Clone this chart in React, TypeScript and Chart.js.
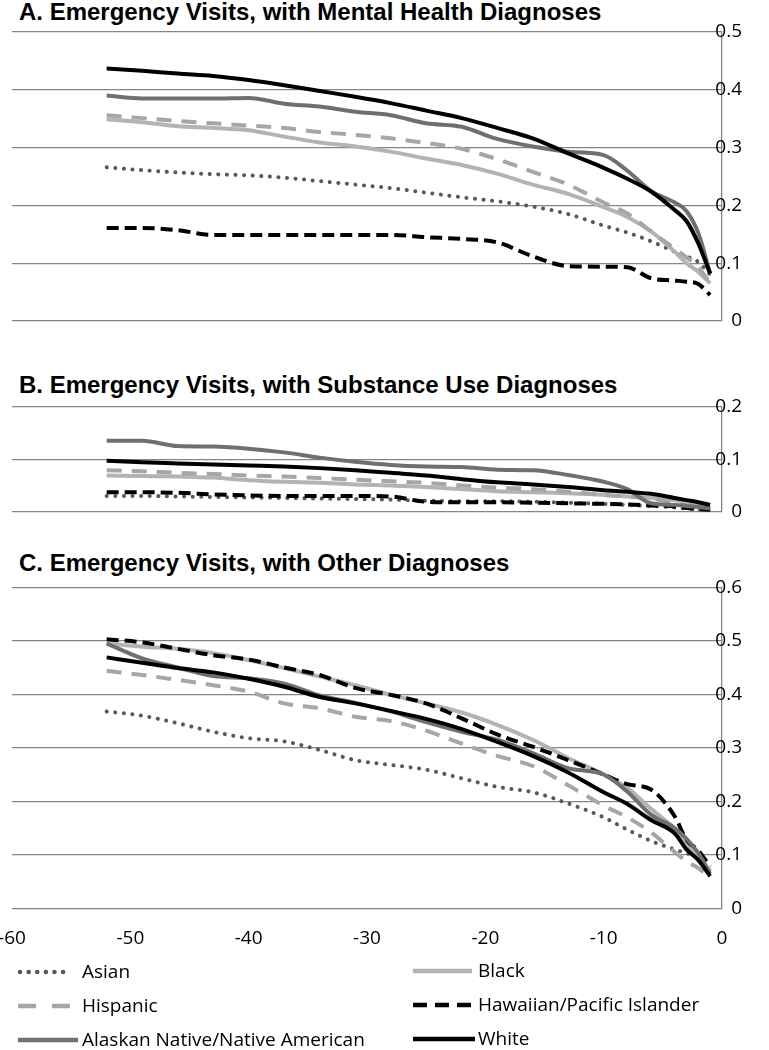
import React, { useEffect, useRef } from 'react';
import { Chart, registerables } from 'chart.js';

Chart.register(...registerables);

// ---------- DATA ----------
const weeks = [-52, -49, -46, -43, -40, -37, -34, -31, -28, -25, -22, -19, -16, -13, -10, -8, -6, -4, -3, -2, -1];
const xTickValues = [-60, -50, -40, -30, -20, -10, 0];

const seriesNames = ['Asian', 'Black', 'Hispanic', 'Hawaiian/Pacific Islander', 'Alaskan Native/Native American', 'White'];

// Panel A: Mental health diagnoses
const asianA = [0.266, 0.261, 0.257, 0.254, 0.252, 0.248, 0.242, 0.236, 0.230, 0.222, 0.214, 0.207, 0.198, 0.185, 0.165, 0.153, 0.138, 0.120, 0.112, 0.102, 0.080];
const blackA = [0.349, 0.344, 0.337, 0.334, 0.330, 0.319, 0.309, 0.302, 0.293, 0.281, 0.270, 0.255, 0.236, 0.220, 0.197, 0.180, 0.155, 0.120, 0.100, 0.085, 0.065];
const hispanicA = [0.356, 0.351, 0.346, 0.342, 0.338, 0.334, 0.327, 0.322, 0.316, 0.308, 0.298, 0.280, 0.258, 0.236, 0.205, 0.186, 0.155, 0.125, 0.110, 0.093, 0.065];
const hawaiianA = [0.161, 0.161, 0.157, 0.149, 0.149, 0.149, 0.149, 0.149, 0.149, 0.145, 0.142, 0.136, 0.112, 0.095, 0.094, 0.093, 0.074, 0.070, 0.068, 0.064, 0.045];
const alaskanA = [0.390, 0.385, 0.385, 0.385, 0.386, 0.376, 0.371, 0.362, 0.356, 0.342, 0.336, 0.315, 0.302, 0.293, 0.287, 0.260, 0.225, 0.205, 0.190, 0.152, 0.082];
const whiteA = [0.437, 0.433, 0.428, 0.424, 0.417, 0.408, 0.398, 0.388, 0.377, 0.364, 0.351, 0.334, 0.316, 0.290, 0.265, 0.246, 0.224, 0.192, 0.173, 0.134, 0.082];

// Panel B: Substance use diagnoses
const asianB = [0.030, 0.030, 0.029, 0.028, 0.027, 0.026, 0.025, 0.024, 0.023, 0.021, 0.020, 0.020, 0.019, 0.017, 0.015, 0.013, 0.011, 0.008, 0.006, 0.004, 0.002];
const blackB = [0.069, 0.068, 0.067, 0.065, 0.060, 0.057, 0.055, 0.052, 0.050, 0.047, 0.043, 0.039, 0.037, 0.035, 0.032, 0.029, 0.026, 0.022, 0.018, 0.012, 0.006];
const hispanicB = [0.079, 0.077, 0.074, 0.072, 0.069, 0.067, 0.064, 0.061, 0.058, 0.055, 0.050, 0.046, 0.043, 0.038, 0.032, 0.029, 0.025, 0.016, 0.011, 0.007, 0.003];
const hawaiianB = [0.037, 0.037, 0.036, 0.033, 0.031, 0.030, 0.030, 0.030, 0.029, 0.019, 0.018, 0.018, 0.017, 0.016, 0.015, 0.014, 0.012, 0.010, 0.007, 0.005, 0.003];
const alaskanB = [0.135, 0.135, 0.125, 0.124, 0.120, 0.113, 0.103, 0.095, 0.089, 0.086, 0.085, 0.080, 0.079, 0.070, 0.057, 0.043, 0.016, 0.013, 0.011, 0.009, 0.006];
const whiteB = [0.097, 0.094, 0.092, 0.090, 0.088, 0.086, 0.083, 0.079, 0.074, 0.069, 0.062, 0.056, 0.052, 0.047, 0.041, 0.038, 0.034, 0.026, 0.022, 0.018, 0.013];

// Panel C: Other diagnoses
const asianC = [0.368, 0.360, 0.346, 0.330, 0.318, 0.312, 0.296, 0.277, 0.268, 0.259, 0.243, 0.227, 0.217, 0.196, 0.170, 0.147, 0.126, 0.110, 0.103, 0.096, 0.088];
const blackC = [0.495, 0.489, 0.485, 0.477, 0.464, 0.449, 0.433, 0.417, 0.399, 0.383, 0.366, 0.343, 0.315, 0.281, 0.250, 0.225, 0.186, 0.148, 0.120, 0.092, 0.070];
const hispanicC = [0.444, 0.436, 0.427, 0.417, 0.405, 0.383, 0.374, 0.358, 0.350, 0.332, 0.308, 0.285, 0.266, 0.230, 0.192, 0.170, 0.142, 0.105, 0.088, 0.075, 0.056];
const hawaiianC = [0.503, 0.497, 0.485, 0.473, 0.465, 0.450, 0.436, 0.412, 0.399, 0.383, 0.355, 0.325, 0.302, 0.277, 0.250, 0.232, 0.222, 0.172, 0.128, 0.108, 0.078];
const alaskanC = [0.495, 0.467, 0.450, 0.434, 0.430, 0.420, 0.398, 0.384, 0.368, 0.348, 0.330, 0.315, 0.290, 0.262, 0.250, 0.218, 0.175, 0.150, 0.130, 0.103, 0.065];
const whiteC = [0.469, 0.459, 0.449, 0.441, 0.429, 0.414, 0.395, 0.383, 0.369, 0.354, 0.335, 0.311, 0.285, 0.254, 0.217, 0.195, 0.165, 0.140, 0.110, 0.090, 0.060];

const titleA = 'A. Emergency Visits, with Mental Health Diagnoses';
const titleB = 'B. Emergency Visits, with Substance Use Diagnoses';
const titleC = 'C. Emergency Visits, with Other Diagnoses';

// ---------- STYLES ----------
type Style = { color: string; dash: number[]; legendDash: string; cap: CanvasLineCap; width: number; order: number };
const styles: Style[] = [
  { color: '#595959', dash: [0.1, 8.5], legendDash: '0.1 8.5', cap: 'round', width: 4, order: 6 },
  { color: '#b3b3b3', dash: [], legendDash: '', cap: 'butt', width: 4, order: 5 },
  { color: '#a6a6a6', dash: [15, 10], legendDash: '18 16', cap: 'butt', width: 4, order: 4 },
  { color: '#000000', dash: [12, 6], legendDash: '14 8', cap: 'butt', width: 4, order: 3 },
  { color: '#6f6f6f', dash: [], legendDash: '', cap: 'butt', width: 4, order: 2 },
  { color: '#000000', dash: [], legendDash: '', cap: 'butt', width: 4, order: 1 },
];

const FONT = "'Open Sans', 'Noto Sans', sans-serif";
const TITLE_FONT = "'Liberation Sans', Arial, sans-serif";
const GRID = '#858585';

type PanelProps = {
  top: number;
  height: number;
  padding: { top: number; bottom: number; left: number; right: number };
  max: number;
  series: number[][];
  showX: boolean;
};

function Panel({ top, height, padding, max, series, showX }: PanelProps) {
  const ref = useRef<HTMLCanvasElement | null>(null);
  useEffect(() => {
    if (!ref.current) return;
    const datasets = series.map((vals, i) => ({
      label: seriesNames[i],
      data: weeks.map((w, j) => ({ x: w, y: vals[j] })),
      borderColor: styles[i].color,
      backgroundColor: styles[i].color,
      borderWidth: styles[i].width,
      borderDash: styles[i].dash,
      borderCapStyle: styles[i].cap,
      borderJoinStyle: 'round' as CanvasLineJoin,
      pointRadius: 0,
      fill: false,
      order: styles[i].order,
      cubicInterpolationMode: 'monotone' as const,
    }));
    const chart = new Chart(ref.current, {
      type: 'line',
      data: { datasets },
      options: {
        animation: false,
        responsive: false,
        devicePixelRatio: 1,
        layout: { padding },
        plugins: { legend: { display: false }, tooltip: { enabled: false }, title: { display: false } },
        scales: {
          x: {
            type: 'linear',
            min: -60,
            max: 0,
            display: showX,
            grid: { display: false },
            border: { display: false },
            afterBuildTicks: (s: any) => {
              s.ticks = xTickValues.map((v) => ({ value: v }));
            },
            ticks: {
              padding: 11,
              color: '#000',
              font: { family: FONT, size: 19 },
              maxRotation: 0,
              autoSkip: false,
            },
            afterFit: (s: any) => {
              s.paddingLeft = 0;
              s.paddingRight = 0;
              if (s.options.display) s.height = 40;
            },
          },
          y: {
            position: 'right',
            min: 0,
            max,
            ticks: {
              stepSize: 0.1,
              mirror: true,
              padding: 20,
              color: '#000',
              font: { family: FONT, size: 19 },
              callback: (v: any) => String(Math.round(Number(v) * 10) / 10),
            },
            grid: { color: GRID, lineWidth: 1.3, drawTicks: false },
            border: { display: true, color: GRID, width: 1.3 },
            afterFit: (s: any) => {
              s.paddingTop = 0;
              s.paddingBottom = 0;
            },
          },
        },
      } as any,
    });
    return () => chart.destroy();
  }, []);
  return (
    <canvas
      ref={ref}
      width={769}
      height={height}
      style={{ position: 'absolute', left: 0, top, width: 769, height, display: 'block' }}
    />
  );
}

function Title({ text, top }: { text: string; top: number }) {
  return (
    <div
      style={{
        position: 'absolute',
        left: 19,
        top,
        fontFamily: TITLE_FONT,
        fontWeight: 'bold',
        fontSize: 24,
        lineHeight: '24px',
        color: '#000',
        whiteSpace: 'nowrap',
      }}
    >
      {text}
    </div>
  );
}

function LegendItem({ idx, x, sampleW, textX, cy }: { idx: number; x: number; sampleW: number; textX: number; cy: number }) {
  const st = styles[idx];
  return (
    <>
      <svg
        width={sampleW + 4}
        height={10}
        style={{ position: 'absolute', left: x - 2, top: cy - 5, overflow: 'visible' }}
      >
        <line
          x1={2}
          y1={5}
          x2={sampleW + 2}
          y2={5}
          stroke={st.color}
          strokeWidth={4.5}
          strokeDasharray={st.legendDash || undefined}
          strokeLinecap={st.cap}
        />
      </svg>
      <div
        style={{
          position: 'absolute',
          left: textX,
          top: cy - 13,
          fontFamily: FONT,
          fontSize: 19,
          lineHeight: '24px',
          color: '#000',
          whiteSpace: 'nowrap',
        }}
      >
        {seriesNames[idx]}
      </div>
    </>
  );
}

export default function App() {
  return (
    <div style={{ position: 'absolute', left: 0, top: 0, width: 769, height: 1050, background: '#fff', overflow: 'hidden' }}>
      <Title text={titleA} top={0} />
      <Panel
        top={0}
        height={335}
        padding={{ top: 32, bottom: 14, left: 12, right: 7 }}
        max={0.5}
        series={[asianA, blackA, hispanicA, hawaiianA, alaskanA, whiteA]}
        showX={false}
      />
      <Title text={titleB} top={373} />
      <Panel
        top={390}
        height={135}
        padding={{ top: 16.7, bottom: 13.3, left: 12, right: 7 }}
        max={0.2}
        series={[asianB, blackB, hispanicB, hawaiianB, alaskanB, whiteB]}
        showX={false}
      />
      <Title text={titleC} top={551} />
      <Panel
        top={570}
        height={390}
        padding={{ top: 17.3, bottom: 11.7, left: 12, right: 7 }}
        max={0.6}
        series={[asianC, blackC, hispanicC, hawaiianC, alaskanC, whiteC]}
        showX={true}
      />
      <LegendItem idx={0} x={20} sampleW={50} textX={82} cy={972} />
      <LegendItem idx={2} x={18} sampleW={52} textX={82} cy={1006} />
      <LegendItem idx={4} x={18} sampleW={60} textX={82} cy={1040} />
      <LegendItem idx={1} x={413} sampleW={59} textX={478} cy={971} />
      <LegendItem idx={3} x={413} sampleW={58} textX={478} cy={1005} />
      <LegendItem idx={5} x={413} sampleW={62} textX={478} cy={1039} />
    </div>
  );
}
